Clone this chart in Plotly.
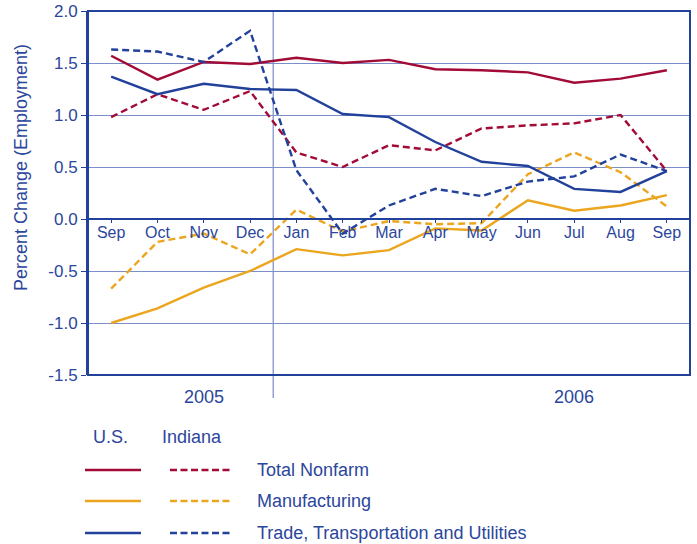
import plotly.graph_objects as go

months = ["Sep", "Oct", "Nov", "Dec", "Jan", "Feb", "Mar", "Apr", "May", "Jun", "Jul", "Aug", "Sep"]
years = ["2005", "2006"]
year_pos = [2, 10]

us_nonfarm = [1.57, 1.34, 1.51, 1.49, 1.55, 1.50, 1.53, 1.44, 1.43, 1.41, 1.31, 1.35, 1.43]
in_nonfarm = [0.98, 1.20, 1.05, 1.23, 0.64, 0.50, 0.71, 0.66, 0.87, 0.90, 0.92, 1.00, 0.46]
us_manuf = [-1.00, -0.86, -0.66, -0.50, -0.29, -0.35, -0.30, -0.09, -0.11, 0.18, 0.08, 0.13, 0.23]
in_manuf = [-0.67, -0.22, -0.14, -0.34, 0.09, -0.12, -0.02, -0.05, -0.04, 0.43, 0.64, 0.45, 0.12]
us_trade = [1.37, 1.20, 1.30, 1.25, 1.24, 1.01, 0.98, 0.74, 0.55, 0.51, 0.29, 0.26, 0.46]
in_trade = [1.63, 1.61, 1.51, 1.81, 0.47, -0.14, 0.13, 0.29, 0.22, 0.36, 0.41, 0.62, 0.46]

series_names = ["Total Nonfarm", "Manufacturing", "Trade, Transportation and Utilities"]
colors = ["#a30b37", "#eba51e", "#22419a"]
us_data = [us_nonfarm, us_manuf, us_trade]
in_data = [in_nonfarm, in_manuf, in_trade]

TEXT = "#2b469c"
AXIS = "#22419a"
GRID = "#7d8fc8"
FONT = "Liberation Sans, Arial, sans-serif"

W, H = 697, 544
ML, MR, MT, MB = 88, 7, 11, 169
PW, PH = W - ML - MR, H - MT - MB


def px_x(px):
    return (px - ML) / PW


def px_y(py):
    return (H - MB - py) / PH


fig = go.Figure()
xs = list(range(len(months)))
for name, c, us, ind in zip(series_names, colors, us_data, in_data):
    fig.add_trace(go.Scatter(x=xs, y=us, mode="lines", line=dict(color=c, width=2.4),
                             name="U.S. " + name, showlegend=False))
    fig.add_trace(go.Scatter(x=xs, y=ind, mode="lines", line=dict(color=c, width=2.4, dash="7px,4px"),
                             name="Indiana " + name, showlegend=False))

zero_frac = 1.5 / 3.5

fig.update_layout(
    width=W, height=H,
    margin=dict(l=ML, r=MR, t=MT, b=MB, autoexpand=False),
    paper_bgcolor="white", plot_bgcolor="white",
    font=dict(family=FONT, color=TEXT, size=16),
    xaxis=dict(
        range=[-0.5, 12.5], tickmode="array", tickvals=xs, ticktext=months,
        showgrid=False, zeroline=False, showline=True, linecolor=AXIS, linewidth=2,
        anchor="free", position=zero_frac, ticks="outside", ticklen=3, tickcolor=AXIS,
        tickson="boundaries", tickfont=dict(size=16, color=TEXT), ticklabelstandoff=-4,
        automargin=False,
    ),
    yaxis=dict(
        range=[-1.5, 2.0], tickmode="array", tickvals=[-1.5, -1.0, -0.5, 0.0, 0.5, 1.0, 1.5, 2.0],
        ticktext=["-1.5", "-1.0", "-0.5", "0.0", "0.5", "1.0", "1.5", "2.0"],
        showgrid=True, gridcolor=GRID, gridwidth=1.3, zeroline=False,
        showline=True, linecolor=AXIS, linewidth=2, ticks="outside", ticklen=5, tickcolor=AXIS,
        tickfont=dict(size=17, color=TEXT), automargin=False,
    ),
)

# plot frame
fig.add_shape(type="rect", xref="paper", yref="paper", x0=0, x1=1, y0=0, y1=1,
              line=dict(color=AXIS, width=2), layer="above")
# year divider
fig.add_shape(type="line", xref="x", yref="paper", x0=3.5, x1=3.5, y0=px_y(398), y1=1,
              line=dict(color="#8592d0", width=1.3), layer="below")

for yr, xp in zip(years, year_pos):
    fig.add_annotation(x=xp, y=px_y(397), xref="x", yref="paper", text=yr, showarrow=False,
                       font=dict(size=18, color=TEXT), yanchor="middle")

# y title
fig.add_annotation(x=px_x(21), y=px_y(168), xref="paper", yref="paper", xanchor="center",
                   yanchor="middle", text="Percent Change (Employment)", textangle=-90,
                   showarrow=False, font=dict(size=18, color=TEXT))

# custom legend
fig.add_annotation(x=px_x(110), y=px_y(437), xref="paper", yref="paper", yanchor="middle",
                   text="U.S.", showarrow=False, font=dict(size=18, color=TEXT), xanchor="center")
fig.add_annotation(x=px_x(192), y=px_y(437), xref="paper", yref="paper", yanchor="middle",
                   text="Indiana", showarrow=False, font=dict(size=18, color=TEXT), xanchor="center")
leg_y = [470, 501, 533]
for name, c, ly in zip(series_names, colors, leg_y):
    fig.add_shape(type="line", xref="paper", yref="paper", x0=px_x(85), x1=px_x(141),
                  y0=px_y(ly), y1=px_y(ly), line=dict(color=c, width=2.5))
    fig.add_shape(type="line", xref="paper", yref="paper", x0=px_x(170), x1=px_x(230),
                  y0=px_y(ly), y1=px_y(ly), line=dict(color=c, width=2.5, dash="7px,3.5px"))
    fig.add_annotation(x=px_x(255), y=px_y(ly), xref="paper", yref="paper",
                       text=name, showarrow=False, font=dict(size=18, color=TEXT),
                       xanchor="left", yanchor="middle")

fig.write_html("out.html", config={"displayModeBar": False},
               post_script="document.body.style.margin='0';")
